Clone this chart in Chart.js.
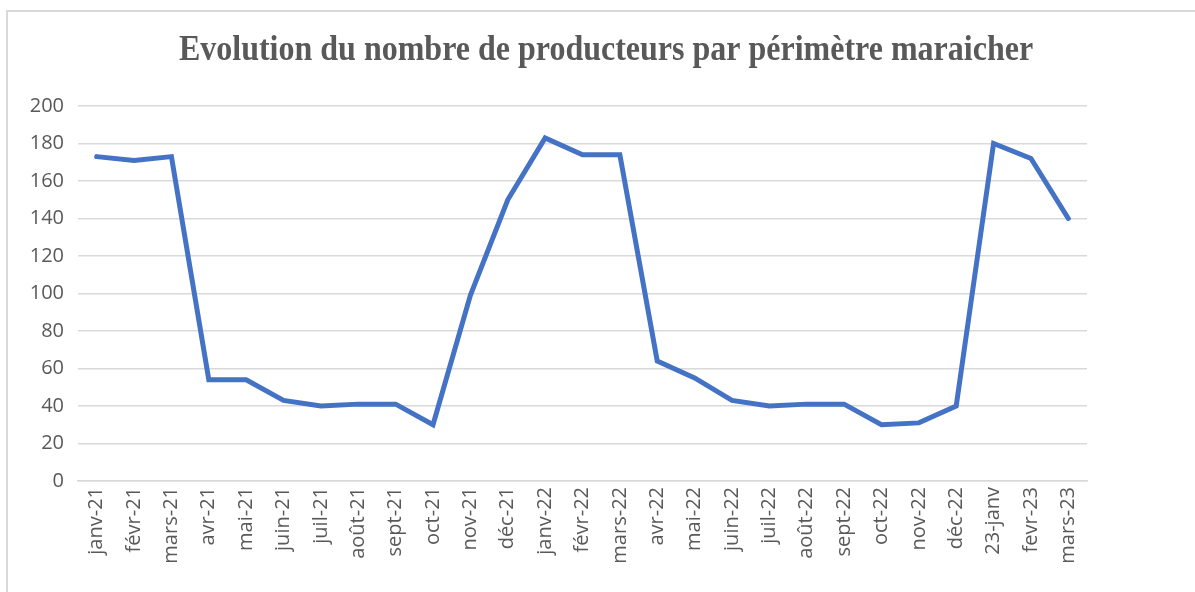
<!DOCTYPE html>
<html>
<head>
<meta charset="utf-8">
<script src="https://cdn.jsdelivr.net/npm/chart.js@4.4.0/dist/chart.umd.min.js"></script>
<style>
html,body{margin:0;padding:0;background:#fff;}
#frame{position:absolute;left:6px;top:10px;width:1200px;height:600px;border-left:2px solid #d9d9d9;border-top:2px solid #d9d9d9;box-sizing:border-box;}
#wrap{position:absolute;left:0;top:0;width:1195px;height:592px;}
</style>
</head>
<body>
<div id="frame"></div>
<div id="wrap"><canvas id="c" width="1195" height="592"></canvas></div>
<script>
const titleText = "Evolution du nombre de producteurs par périmètre maraicher";
const categories = ["janv-21","févr-21","mars-21","avr-21","mai-21","juin-21","juil-21","août-21","sept-21","oct-21","nov-21","déc-21","janv-22","févr-22","mars-22","avr-22","mai-22","juin-22","juil-22","août-22","sept-22","oct-22","nov-22","déc-22","23-janv","fevr-23","mars-23"];
const producteurs = [173,171,173,54,54,43,40,41,41,30,99,150,183,174,174,64,55,43,40,41,41,30,31,40,180,172,140];
const yTicks = [0,20,40,60,80,100,120,140,160,180,200];

const textColor = "#595959";

const titlePlugin = {
  id: "centeredTitle",
  afterDraw(chart) {
    const ctx = chart.ctx;
    ctx.save();
    ctx.fillStyle = textColor;
    ctx.font = "bold 32px 'Liberation Serif', 'Times New Roman', serif";
    ctx.textAlign = "center";
    ctx.textBaseline = "alphabetic";
    ctx.translate(606, 60);
    ctx.scale(1, 1.12);
    ctx.fillText(titleText, 0, 0);
    ctx.restore();
  }
};

new Chart(document.getElementById("c"), {
  type: "line",
  data: {
    labels: categories,
    datasets: [{
      data: producteurs,
      borderColor: "#4472C4",
      borderWidth: 5,
      pointRadius: 0,
      tension: 0,
      fill: false,
      borderCapStyle: "round",
      borderJoinStyle: "miter"
    }]
  },
  plugins: [titlePlugin],
  options: {
    responsive: false,
    animation: false,
    layout: { padding: { top: 106, right: 108, bottom: 0, left: 0 } },
    plugins: {
      legend: { display: false },
      tooltip: { enabled: false },
      title: { display: false }
    },
    scales: {
      x: {
        offset: true,
        grid: { display: false, drawTicks: false },
        border: { display: true, color: "#d9d9d9", width: 1.5 },
        ticks: {
          color: textColor,
          font: { family: "'Open Sans', sans-serif", size: 20 },
          minRotation: 90, maxRotation: 90,
          autoSkip: false,
          padding: 6
        },
        afterFit: s => { s.height = 111; }
      },
      y: {
        min: 0, max: 200,
        afterBuildTicks: s => { s.ticks = yTicks.map(v => ({ value: v })); },
        grid: { color: "#d9d9d9", lineWidth: 1.5, drawTicks: false },
        border: { display: false },
        ticks: {
          color: textColor,
          font: { family: "'Open Sans', sans-serif", size: 20 },
          padding: 14
        },
        afterFit: s => { s.width = 78; }
      }
    }
  }
});
</script>
</body>
</html>
